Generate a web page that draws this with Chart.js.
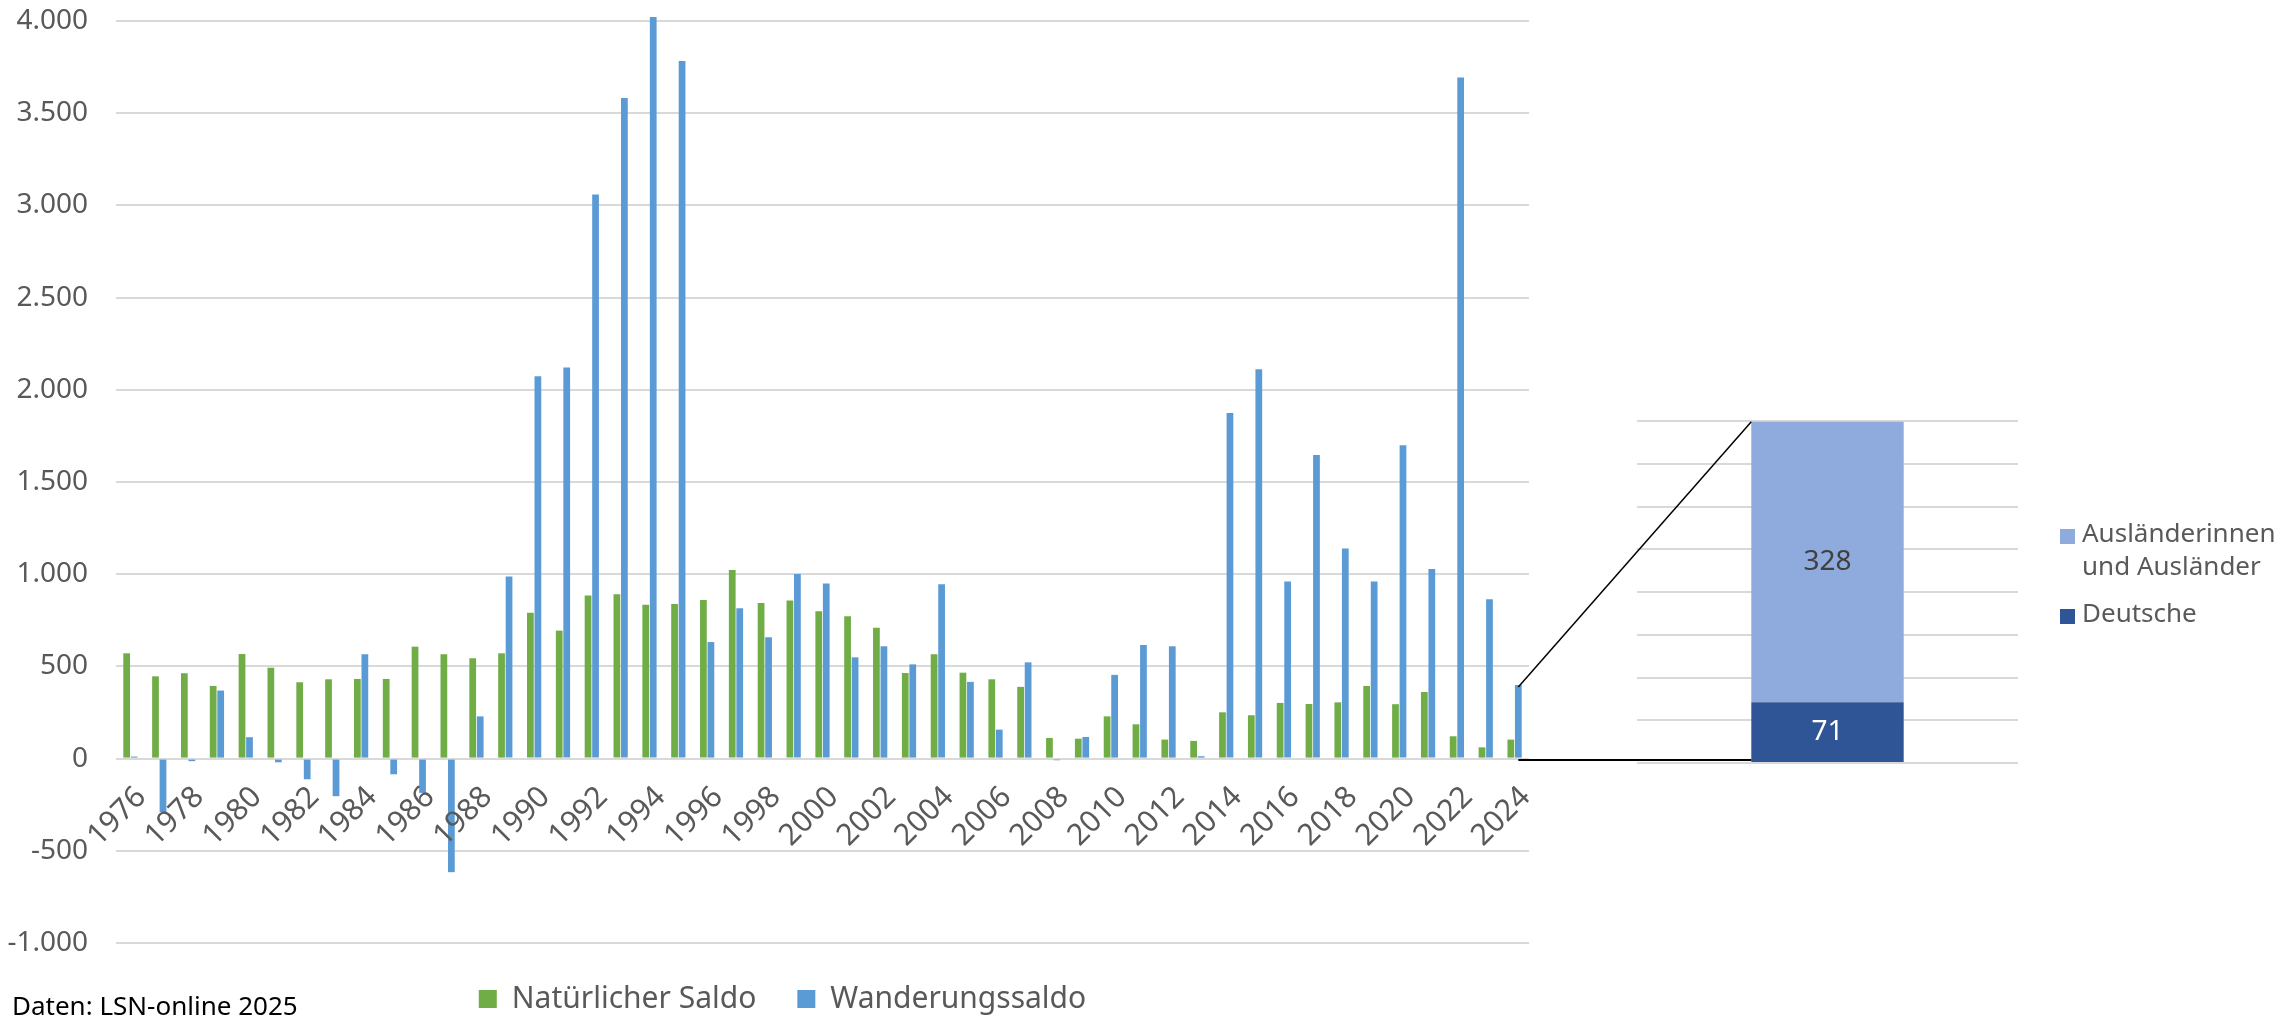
<!DOCTYPE html>
<html lang="de">
<head>
<meta charset="utf-8">
<title>Natürlicher Saldo und Wanderungssaldo</title>
<script src="https://cdn.jsdelivr.net/npm/chart.js@4/dist/chart.umd.min.js"></script>
<style>
  html, body { margin: 0; padding: 0; background: #fff; }
  body {
    width: 2294px; height: 1015px; position: relative; overflow: hidden;
    font-family: "Noto Sans", sans-serif;
  }
  canvas { position: absolute; left: 0; top: 0; }
  .source {
    position: absolute; left: 12px; top: 992px;
    font-size: 26px; line-height: 26px; color: #000; white-space: nowrap;
  }
  .side-legend {
    position: absolute; left: 2060px; top: 516px;
    font-size: 26px; line-height: 33px; color: #595959; white-space: nowrap;
  }
  .side-legend__item { position: relative; padding-left: 22px; }
  .side-legend__item + .side-legend__item { margin-top: 14px; }
  .side-legend__swatch { position: absolute; left: 0; top: 13px; width: 15px; height: 15px; }
</style>
</head>
<body>
<canvas id="main-chart" width="2294" height="1015"></canvas>
<canvas id="side-chart" width="2294" height="1015"></canvas>
<div class="source">Daten: LSN-online 2025</div>
<div class="side-legend">
  <div class="side-legend__item"><span class="side-legend__swatch" id="swatch-foreign"></span>Ausländerinnen<br>und Ausländer</div>
  <div class="side-legend__item"><span class="side-legend__swatch" id="swatch-german"></span>Deutsche</div>
</div>
<script>
  const years = [
    "1976", "1977", "1978", "1979", "1980", "1981", "1982", "1983", "1984", "1985",
    "1986", "1987", "1988", "1989", "1990", "1991", "1992", "1993", "1994", "1995",
    "1996", "1997", "1998", "1999", "2000", "2001", "2002", "2003", "2004", "2005",
    "2006", "2007", "2008", "2009", "2010", "2011", "2012", "2013", "2014", "2015",
    "2016", "2017", "2018", "2019", "2020", "2021", "2022", "2023", "2024",
  ];

  const naturalSaldo = [
    571, 446, 463, 394, 567, 493, 414, 430, 432, 432,
    607, 566, 544, 571, 791, 694, 885, 891, 835, 838,
    860, 1023, 844, 857, 799, 772, 710, 464, 566, 466,
    430, 389, 112, 108, 229, 186, 103, 96, 251, 235,
    302, 296, 305, 394, 295, 361, 121, 61, 103,
  ];

  const migrationSaldo = [
    11, -290, -14, 369, 116, -20, -112, -204, 566, -85,
    -186, -616, 229, 987, 2074, 2121, 3059, 3583, 4022, 3783,
    632, 815, 658, 1001, 950, 549, 609, 511, 945, 416,
    157, 522, -9, 117, 454, 616, 609, 13, 1874, 2112,
    961, 1646, 1140, 961, 1699, 1028, 3693, 864, 399,
  ];

  // breakdown of the 2024 migration balance
  const sideCategory = ["2024"];
  const germans = [71];
  const foreigners = [328];

  const yMin = -1000;
  const yMax = 4000;
  const yStep = 500;
  const sideMax = 400;
  const sideStep = 50;

  const colors = {
    natural: "#70AD47",
    migration: "#5B9BD5",
    german: "#2F5597",
    foreign: "#8FAADC",
    grid: "#D9D9D9",
    text: "#595959",
  };
  const fontFamily = "'Noto Sans', sans-serif";

  document.getElementById("swatch-foreign").style.background = colors.foreign;
  document.getElementById("swatch-german").style.background = colors.german;

  // 4000 -> "4.000"
  function formatThousands(value) {
    const digits = Math.abs(value).toString().replace(/\B(?=(\d{3})+(?!\d))/g, ".");
    return (value < 0 ? "-" : "") + digits;
  }

  // the legend is centred a bit right of the canvas middle in the original
  const legendShift = {
    id: "legendShift",
    afterLayout(chart) {
      chart.legend.left += 18;
      chart.legend.right += 18;
    },
  };

  const mainChart = new Chart(document.getElementById("main-chart"), {
    type: "bar",
    data: {
      labels: years,
      datasets: [
        {
          label: "Natürlicher Saldo",
          data: naturalSaldo,
          backgroundColor: colors.natural,
          borderWidth: 0,
          categoryPercentage: 0.52,
          barPercentage: 0.9,
        },
        {
          label: "Wanderungssaldo",
          data: migrationSaldo,
          backgroundColor: colors.migration,
          borderWidth: 0,
          categoryPercentage: 0.52,
          barPercentage: 0.9,
          clip: false,
        },
      ],
    },
    options: {
      responsive: false,
      animation: false,
      events: [],
      layout: {
        padding: { left: 0, right: 2294 - 1529, top: 21, bottom: 0 },
      },
      plugins: {
        tooltip: { enabled: false },
        legend: {
          position: "bottom",
          maxHeight: 72,
          labels: {
            color: colors.text,
            font: { family: fontFamily, size: 30 },
            boxWidth: 18,
            boxHeight: 18,
            padding: 41,
          },
        },
      },
      scales: {
        x: {
          position: { y: 0 },
          grid: { display: false, drawTicks: false },
          border: { display: false },
          ticks: {
            autoSkip: false,
            minRotation: 45,
            maxRotation: 45,
            padding: 21,
            labelOffset: 11,
            z: 1,
            color: colors.text,
            font: { family: fontFamily, size: 30 },
            callback: function (value, index) {
              return index % 2 === 0 ? this.getLabelForValue(value) : "";
            },
          },
        },
        y: {
          min: yMin,
          max: yMax,
          // invisible tick marks keep the labels away from the plot
          grid: {
            color: colors.grid,
            lineWidth: 2,
            drawTicks: true,
            tickLength: 28,
            tickColor: "rgba(0,0,0,0)",
          },
          border: { display: false },
          ticks: {
            stepSize: yStep,
            padding: 0,
            color: colors.text,
            font: { family: fontFamily, size: 28 },
            callback: (value) => formatThousands(value),
          },
          afterFit: (scale) => {
            scale.width = 116;
          },
        },
      },
    },
    plugins: [legendShift],
  });

  const sideLabelColors = ["#FFFFFF", "#404040"];

  const valueLabels = {
    id: "valueLabels",
    afterDatasetsDraw(chart) {
      const ctx = chart.ctx;
      ctx.save();
      ctx.font = "28px " + fontFamily;
      ctx.textAlign = "center";
      ctx.textBaseline = "middle";
      chart.data.datasets.forEach((dataset, i) => {
        chart.getDatasetMeta(i).data.forEach((bar, j) => {
          ctx.fillStyle = sideLabelColors[i];
          ctx.fillText(String(dataset.data[j]), bar.x, (bar.y + bar.base) / 2);
        });
      });
      ctx.restore();
    },
  };

  // lines from the 2024 bar of the main chart to the breakdown bar
  const connector = {
    id: "connector",
    afterDraw(chart) {
      const mainBars = mainChart.getDatasetMeta(1).data;
      const source = mainBars[mainBars.length - 1];
      const target = chart.getDatasetMeta(1).data[0];
      const base = chart.getDatasetMeta(0).data[0].base;
      const targetLeft = target.x - target.width / 2;

      const ctx = chart.ctx;
      ctx.save();
      ctx.strokeStyle = "#000";
      ctx.lineWidth = 1.5;
      ctx.beginPath();
      ctx.moveTo(source.x, source.y + 2);
      ctx.lineTo(targetLeft, target.y);
      ctx.stroke();
      ctx.lineWidth = 2;
      ctx.beginPath();
      ctx.moveTo(source.x, base - 2);
      ctx.lineTo(targetLeft, base - 2);
      ctx.stroke();
      ctx.restore();
    },
  };

  new Chart(document.getElementById("side-chart"), {
    type: "bar",
    data: {
      labels: sideCategory,
      datasets: [
        {
          label: "Deutsche",
          data: germans,
          backgroundColor: colors.german,
          borderWidth: 0,
          categoryPercentage: 0.4,
          barPercentage: 1,
        },
        {
          label: "Ausländerinnen und Ausländer",
          data: foreigners,
          backgroundColor: colors.foreign,
          borderWidth: 0,
          categoryPercentage: 0.4,
          barPercentage: 1,
        },
      ],
    },
    options: {
      responsive: false,
      animation: false,
      events: [],
      layout: {
        padding: { left: 1637, right: 2294 - 2018, top: 421, bottom: 1015 - 763 },
      },
      plugins: {
        tooltip: { enabled: false },
        legend: { display: false },
      },
      scales: {
        x: { stacked: true, display: false },
        y: {
          stacked: true,
          min: 0,
          max: sideMax,
          grid: { color: colors.grid, lineWidth: 2, drawTicks: false },
          border: { display: false },
          ticks: { display: false, stepSize: sideStep },
          afterFit: (scale) => {
            scale.width = 0;
          },
        },
      },
    },
    plugins: [valueLabels, connector],
  });
</script>
</body>
</html>
